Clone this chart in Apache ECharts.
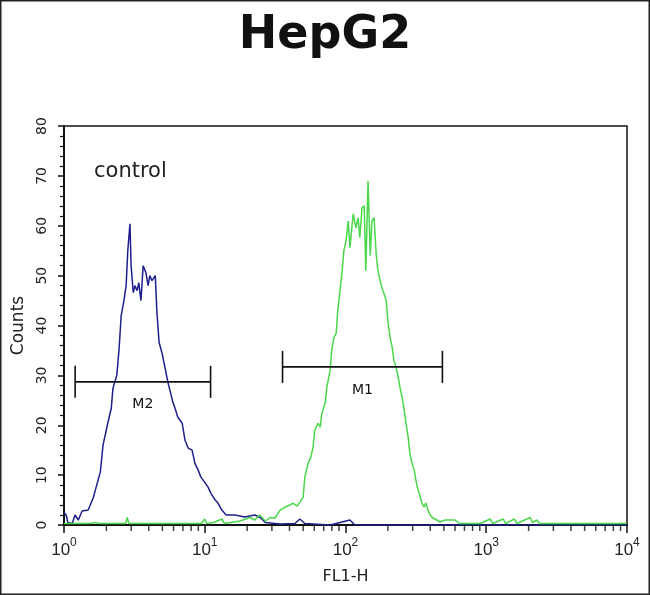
<!DOCTYPE html>
<html><head><meta charset="utf-8">
<script src="https://cdn.jsdelivr.net/npm/echarts@6/dist/echarts.min.js"></script>
<style>html,body{margin:0;padding:0;background:#fff}#c{width:650px;height:595px}</style>
</head><body><div id="c"></div>
<script>
// FL1-H channel (0..1023, 4-decade log amplifier) and counts
const controlChannels = [0,4,7,15,20,26,33,44,53,58,66,71,80,86,89,96,100,104,109,113,116,120,122,126,129,133,136,140,144,149,153,156,160,166,169,173,178,184,189,195,198,202,207,215,220,226,233,238,244,249,257,262,267,275,280,287,295,311,329,347,357,366,393,420,429,438,484,520,529,1023];
const controlCounts = [2.5,2,0.5,0.3,2,1,2.8,3,5.4,7.4,10.6,16,20.6,23.4,27.4,30,35,42,45,48,55,60.4,52,46.6,48,47,48.6,45,52,50.6,48,50,49,50,42.6,36.6,34.6,31.4,28.6,26,24.6,23.4,21.6,20.4,17,15.4,15,12.4,11,9.6,8.4,7.6,6.4,5,4.4,3,2,2,1.6,2,1.5,0.5,0.2,0.3,1.2,0.3,0,1,0,0];
const sampleChannels = [0,47,56,65,112,115,118,150,220,250,256,260,272,287,292,320,338,347,356,366,375,384,393,402,411,416,424,429,435,438,444,449,453,456,462,466,469,475,478,484,487,491,495,498,502,506,509,513,517,520,526,531,535,538,542,546,549,553,557,560,564,568,571,575,578,582,586,589,593,597,600,604,608,611,615,618,622,626,629,633,637,640,644,648,651,655,658,662,666,671,678,684,693,711,720,757,775,780,799,803,819,824,848,852,860,865,1023];
const sampleCounts = [0.3,0.3,0.5,0.3,0.3,1.5,0.3,0.3,0.3,0.3,1.2,0.3,0.5,1.2,0.3,0.8,1.5,1,2,0.8,1.5,1.4,3,3.6,4,4.4,3.8,4.6,5.6,9.6,12.4,13.6,15.6,19,20.4,19.6,22.4,24.4,27.6,31,35,37.6,38.4,43,47,51,55,57,61,55.6,62.4,59.6,61.6,57.6,63.6,64,51,69,54,61,61.6,54,51,49,47.6,46.4,45,41,37.6,35.6,33,31.6,29.6,27.6,25.6,23.6,20.4,17.6,14.4,12.4,11,9,7,5.6,4.4,3.6,4.4,3,2,1.4,1,0.6,1,1,0.3,0.3,1.2,0.3,1.2,0.3,1.2,0.3,1.5,0.5,1,0.3,0.3];

const decades = [1, 10, 100, 1000];
const minorMultipliers = [2,3,4,5,6,7,8,9];
const gateNames = ['M2', 'M1'];
const gateLow = [1.2, 35.7];
const gateHigh = [11, 488];
const gateLevel = [28.7, 31.7];

const toValue = ch => Math.pow(10, ch / 256);
const minorTicks = [];
decades.forEach(d => minorMultipliers.forEach(k => minorTicks.push(d * k)));

const FONT = 'DejaVu Sans';
const chart = echarts.init(document.getElementById('c'), null, {renderer: 'canvas'});
chart.setOption({
  animation: false,
  backgroundColor: '#fff',
  title: {
    text: 'HepG2', left: 'center', top: 8,
    textStyle: {fontFamily: FONT, fontSize: 46, fontWeight: 'bold', color: '#111'}
  },
  graphic: [
    {type: 'rect', shape: {x: 0.5, y: 0.5, width: 649, height: 594}, style: {fill: 'none', stroke: '#222', lineWidth: 2}, silent: true},
    {type: 'text', left: 94, top: 161, style: {text: 'control', font: '21px "DejaVu Sans"', fill: '#222'}}
  ],
  grid: {left: 64, right: 23, top: 126, bottom: 70, show: true, borderColor: '#111', borderWidth: 1.5},
  xAxis: {
    type: 'log', logBase: 10, min: 1, max: 10000,
    name: 'FL1-H', nameLocation: 'middle', nameGap: 44,
    nameTextStyle: {fontFamily: FONT, fontSize: 16, color: '#222'},
    axisLine: {lineStyle: {color: '#111', width: 2}},
    axisTick: {length: 8, lineStyle: {color: '#111', width: 1.5}},
    splitLine: {show: false},
    axisLabel: {
      margin: 12,
      formatter: v => '{b|10}{s|' + Math.round(Math.log10(v)) + '}',
      rich: {
        b: {fontFamily: 'Liberation Sans', fontSize: 17, color: '#222'},
        s: {fontFamily: 'Liberation Sans', fontSize: 12, color: '#222', padding: [0, 0, 14, 0]}
      }
    }
  },
  yAxis: {
    type: 'value', min: 0, max: 80, interval: 10,
    name: 'Counts', nameLocation: 'middle', nameGap: 36,
    nameTextStyle: {fontFamily: FONT, fontSize: 17, color: '#222'},
    axisLine: {show: true, lineStyle: {color: '#111', width: 2}},
    axisTick: {length: 6, lineStyle: {color: '#111', width: 1.5}},
    minorTick: {show: true, splitNumber: 5, length: 4, lineStyle: {color: '#111', width: 1.2}},
    splitLine: {show: false},
    axisLabel: {rotate: 90, margin: 15, fontFamily: FONT, fontSize: 14, color: '#222'}
  },
  series: [
    {
      type: 'line', name: 'control', symbol: 'none', showSymbol: false,
      data: controlChannels.map((c, i) => [toValue(c), controlCounts[i]]),
      lineStyle: {color: '#1f1f8c', width: 1.5}, z: 3
    },
    {
      type: 'line', name: 'HepG2', symbol: 'none', showSymbol: false,
      data: sampleChannels.map((c, i) => [toValue(c), sampleCounts[i]]),
      lineStyle: {color: '#4ad84a', width: 1.5}, z: 4
    },
    {
      type: 'scatter', silent: true, clip: false, z: 6,
      data: minorTicks.map(v => [v, 0]),
      symbol: 'rect', symbolSize: [1.5, 5], symbolOffset: [0, 3.5],
      itemStyle: {color: '#111'}
    },
    {
      type: 'custom', silent: true, clip: false, z: 7,
      data: gateNames.map((n, i) => [gateLow[i], gateHigh[i], gateLevel[i]]),
      encode: {x: [0, 1], y: 2},
      renderItem: (params, api) => {
        const a = api.coord([api.value(0), api.value(2)]);
        const b = api.coord([api.value(1), api.value(2)]);
        const h = 16;
        const st = {stroke: '#111', lineWidth: 1.6};
        return {type: 'group', children: [
          {type: 'line', shape: {x1: a[0], y1: a[1], x2: b[0], y2: b[1]}, style: st},
          {type: 'line', shape: {x1: a[0], y1: a[1] - h, x2: a[0], y2: a[1] + h}, style: st},
          {type: 'line', shape: {x1: b[0], y1: b[1] - h, x2: b[0], y2: b[1] + h}, style: st},
          {type: 'text', x: (a[0] + b[0]) / 2, y: a[1] + 16,
           style: {text: gateNames[params.dataIndex], font: '14px "DejaVu Sans"', fill: '#111',
                   align: 'center', textAlign: 'center', verticalAlign: 'top', textVerticalAlign: 'top'}}
        ]};
      }
    }
  ]
});
</script></body></html>
